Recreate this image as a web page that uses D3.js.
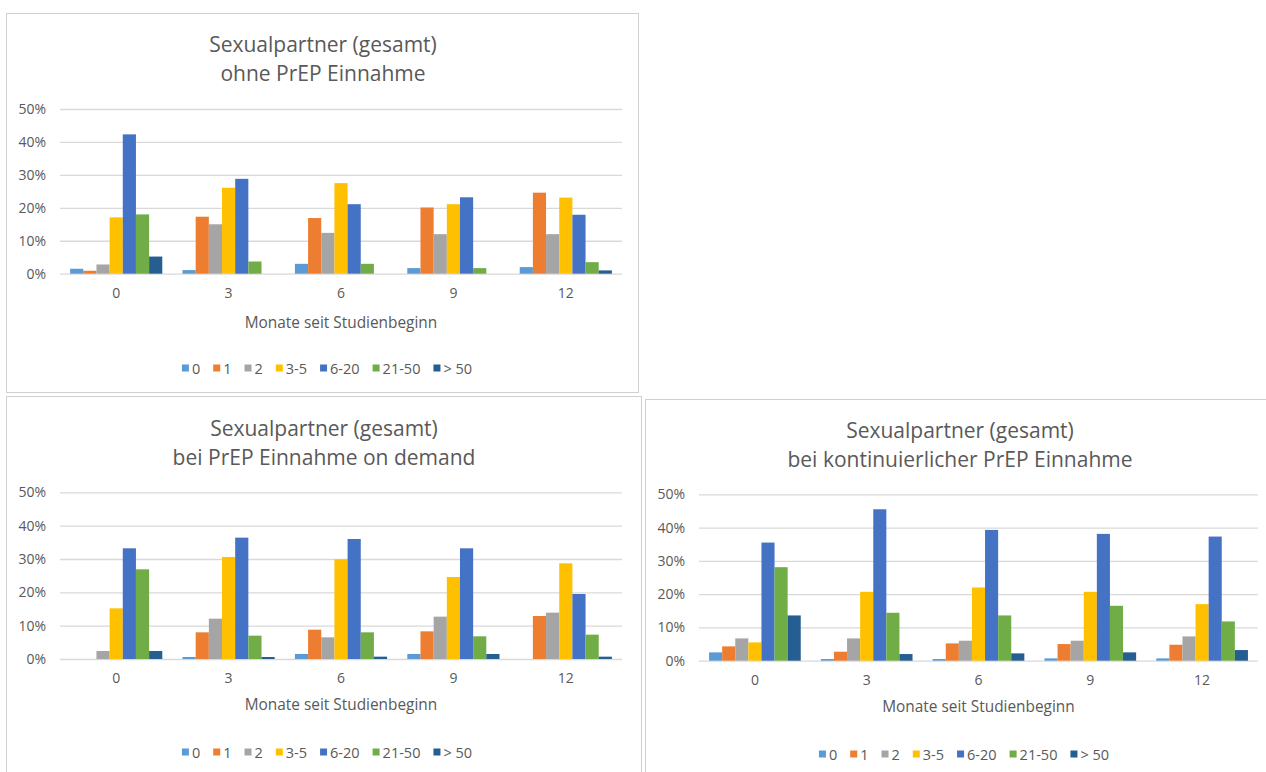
<!DOCTYPE html>
<html>
<head>
<meta charset="utf-8">
<script src="https://cdn.jsdelivr.net/npm/d3@7"></script>
<style>
  html, body { margin: 0; padding: 0; background: #fff; }
  svg { display: block; font-family: "Open Sans", "Liberation Sans", sans-serif; }
</style>
</head>
<body>
<svg id="chart" width="1266" height="772"></svg>
<script>
// Survey months (x categories) and partner-count groups (series)
const months = ["0", "3", "6", "9", "12"];
const groups = ["0", "1", "2", "3-5", "6-20", "21-50", "> 50"];
const groupColors = ["#5B9BD5", "#ED7D31", "#A5A5A5", "#FFC000", "#4472C4", "#70AD47", "#255E91"];
const yTicks = [0, 0.1, 0.2, 0.3, 0.4, 0.5];

// Share of participants (%) per month; one row per month, one value per group
const ohnePrep = [
  [1.5, 0.9, 2.8, 17.1, 42.3, 18.0, 5.2],
  [1.1, 17.3, 15.0, 26.1, 28.8, 3.7, 0],
  [3.0, 16.9, 12.4, 27.5, 21.1, 3.0, 0],
  [1.7, 20.1, 12.0, 21.1, 23.2, 1.7, 0],
  [2.0, 24.6, 12.0, 23.1, 17.9, 3.5, 1.0]
];
const onDemand = [
  [0, 0, 2.4, 15.2, 33.2, 26.9, 2.4],
  [0.6, 8.0, 12.1, 30.6, 36.4, 7.0, 0.6],
  [1.5, 8.8, 6.5, 29.9, 36.0, 8.0, 0.7],
  [1.5, 8.3, 12.7, 24.6, 33.2, 6.8, 1.5],
  [0, 12.9, 13.9, 28.7, 19.5, 7.3, 0.7]
];
const kontinuierlich = [
  [2.5, 4.3, 6.7, 5.5, 35.5, 28.1, 13.6],
  [0.5, 2.7, 6.7, 20.7, 45.5, 14.4, 2.0],
  [0.5, 5.2, 6.0, 22.0, 39.3, 13.6, 2.2],
  [0.7, 5.0, 6.0, 20.7, 38.1, 16.5, 2.5],
  [0.7, 4.8, 7.3, 17.0, 37.3, 11.8, 3.2]
];

const titleLine1 = "Sexualpartner (gesamt)";
const subtitles = ["ohne PrEP Einnahme", "bei PrEP Einnahme on demand", "bei kontinuierlicher PrEP Einnahme"];
const xAxisTitle = "Monate seit Studienbeginn";

const textColor = "#595959";
const gridColor = "#D9D9D9";
const svg = d3.select("#chart");

function drawPanel(p, values, subtitle) {
  // chart frame
  svg.append("rect")
    .attr("x", p.box[0] + 0.5).attr("y", p.box[1] + 0.5)
    .attr("width", p.box[2]).attr("height", p.box[3])
    .attr("fill", "#fff").attr("stroke", "#D0D0D0").attr("stroke-width", 1);

  const g = svg.append("g");

  // two-line title
  [titleLine1, subtitle].forEach((t, i) => {
    g.append("text")
      .attr("x", p.titleX).attr("y", p.titleY[i])
      .attr("text-anchor", "middle").attr("dominant-baseline", "central")
      .attr("fill", textColor).attr("font-size", "21px")
      .text(t);
  });

  const x0 = d3.scaleBand().domain(months).range([p.x0, p.x1]).padding(0);
  const bw = x0.bandwidth();
  const x1 = d3.scaleBand().domain(groups).range([bw * 0.09, bw * 0.91]).padding(0);
  const y = d3.scaleLinear().domain([0, 0.5]).range([p.yBase, p.yTop]);

  // horizontal gridlines with percentage labels
  const yAxis = g.append("g")
    .attr("transform", `translate(${p.x0},0)`)
    .call(d3.axisLeft(y).tickValues(yTicks).tickFormat(d3.format(".0%"))
      .tickSize(-(p.x1 - p.x0)).tickPadding(14));
  yAxis.select(".domain").remove();
  yAxis.selectAll("line").attr("stroke", gridColor).attr("stroke-width", 1.3);
  yAxis.selectAll("text").attr("fill", textColor).attr("font-size", "14px")
    .attr("font-family", "\"Open Sans\", sans-serif");

  // grouped bars
  const cols = g.selectAll(".month").data(months).enter().append("g")
    .attr("transform", d => `translate(${x0(d)},0)`);
  cols.selectAll("rect")
    .data((m, mi) => groups.map((grp, gi) => ({ grp, gi, v: values[mi][gi] / 100 })))
    .enter().append("rect")
    .attr("x", d => x1(d.grp))
    .attr("width", x1.bandwidth())
    .attr("y", d => y(d.v))
    .attr("height", d => y(0) - y(d.v))
    .attr("fill", d => groupColors[d.gi]);

  // month labels
  const xAxis = g.append("g")
    .attr("transform", `translate(0,${p.yBase})`)
    .call(d3.axisBottom(x0).tickSize(0).tickPadding(14));
  xAxis.select(".domain").remove();
  xAxis.selectAll("text").attr("fill", textColor).attr("font-size", "14px")
    .attr("font-family", "\"Open Sans\", sans-serif");

  g.append("text")
    .attr("x", (p.x0 + p.x1) / 2).attr("y", p.axisTitleY)
    .attr("text-anchor", "middle").attr("dominant-baseline", "central")
    .attr("fill", textColor).attr("font-size", "15.4px")
    .text(xAxisTitle);

  // legend, centred under the chart
  const leg = g.append("g");
  let cx = 0;
  groups.forEach((grp, i) => {
    const item = leg.append("g").attr("transform", `translate(${cx},0)`);
    item.append("rect").attr("x", 0).attr("y", -3.5).attr("width", 7).attr("height", 7)
      .attr("fill", groupColors[i]);
    const t = item.append("text").attr("x", 10).attr("y", 0)
      .attr("dominant-baseline", "central")
      .attr("fill", textColor).attr("font-size", "14.5px").text(grp);
    cx += 10 + t.node().getComputedTextLength() + 13;
  });
  const legW = cx - 13;
  leg.attr("transform", `translate(${p.legendX - legW / 2},${p.legendY})`);
}

const panels = [
  { box: [6, 13, 632, 379], titleX: 323, titleY: [44, 73], x0: 60, x1: 622, yTop: 109, yBase: 273.7,
    axisTitleY: 322, legendX: 327, legendY: 368 },
  { box: [6, 396, 635, 390], titleX: 324, titleY: [428, 457], x0: 60, x1: 622, yTop: 492.3, yBase: 659,
    axisTitleY: 704, legendX: 327, legendY: 752 },
  { box: [645, 399, 630, 390], titleX: 960, titleY: [430, 459], x0: 699, x1: 1258, yTop: 494.3, yBase: 660.7,
    axisTitleY: 706, legendX: 964, legendY: 754 }
];

drawPanel(panels[0], ohnePrep, subtitles[0]);
drawPanel(panels[1], onDemand, subtitles[1]);
drawPanel(panels[2], kontinuierlich, subtitles[2]);
</script>
</body>
</html>
